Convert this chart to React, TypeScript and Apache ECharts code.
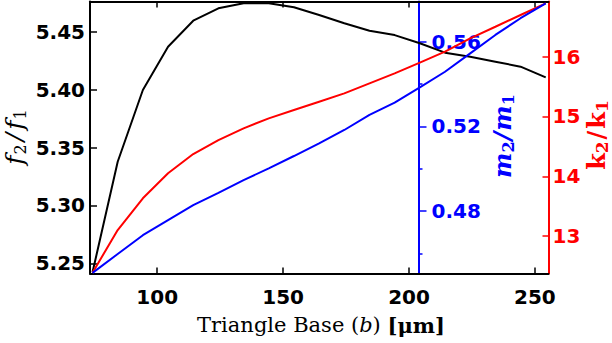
import React, { useEffect, useRef } from "react";
import * as echarts from "echarts";

// Triangle base b [µm]
const xValues = [74.3, 84.3, 94.3, 104.3, 114.3, 124.3, 134.3, 144.3, 154.3, 164.3, 174.3, 184.3, 194.3, 204.3, 214.3, 224.3, 234.3, 244.3, 254.3];
// f2/f1 (black, left axis)
const freqRatio = [5.2422, 5.3377, 5.3997, 5.437, 5.4595, 5.4702, 5.4745, 5.4745, 5.4711, 5.4644, 5.4573, 5.4509, 5.4471, 5.44, 5.4319, 5.4284, 5.4241, 5.4198, 5.4106];
// m2/m1 (blue, inner right axis)
const massRatio = [0.4508, 0.4597, 0.4686, 0.4757, 0.4828, 0.4886, 0.4946, 0.5002, 0.506, 0.512, 0.5183, 0.5254, 0.5312, 0.5384, 0.5458, 0.5545, 0.5632, 0.5711, 0.5781];
// k2/k1 (red, outer right axis)
const stiffRatio = [12.386, 13.1, 13.631, 14.049, 14.372, 14.606, 14.802, 14.969, 15.108, 15.247, 15.387, 15.555, 15.722, 15.9, 16.084, 16.308, 16.502, 16.698, 16.893];

const xTicks = [100, 150, 200, 250];
const fTicks = [5.25, 5.3, 5.35, 5.4, 5.45];
const mTicks = [0.48, 0.52, 0.56];
const mMinorTicks = [0.46, 0.5, 0.54];
const kTicks = [13, 14, 15, 16];

const xRange = [73.3, 255.4];
const fRange = [5.2412, 5.4761];
const mRange = [0.4505, 0.579];
const kRange = [12.373, 16.924];

const BLACK = "#000000";
const BLUE = "#0000ff";
const RED = "#ff0000";
const TICK_FONT = "DejaVu Sans";
const SERIF = "DejaVu Serif";

export default function App() {
  const ref = useRef<HTMLDivElement>(null);

  useEffect(() => {
    if (!ref.current) return;
    const chart = echarts.init(ref.current, undefined, { renderer: "svg" });

    const labelStyle = (color: string) => ({
      color,
      fontSize: 20,
      fontWeight: "bold" as const,
      fontFamily: TICK_FONT,
    });

    const pairs = (arr: number[]) => xValues.map((x, i) => [x, arr[i]]);

    const option: any = {
      animation: false,
      backgroundColor: "#ffffff",
      grid: {
        left: 90,
        right: 63.5,
        top: 1.5,
        bottom: 69.5,
        containLabel: false,
        outerBoundsMode: "none",
      },
      xAxis: [
        {
          type: "value",
          position: "bottom",
          min: xRange[0],
          max: xRange[1],
          axisLine: { show: true, lineStyle: { color: BLACK, width: 2 } },
          axisTick: { show: true, inside: true, length: 6, customValues: xTicks, lineStyle: { color: BLACK, width: 1.5 } },
          axisLabel: { show: true, customValues: xTicks, margin: 13, ...labelStyle(BLACK) },
          splitLine: { show: false },
        },
        {
          type: "value",
          position: "top",
          min: xRange[0],
          max: xRange[1],
          axisLine: { show: true, lineStyle: { color: BLACK, width: 2 } },
          axisTick: { show: true, inside: true, length: 6, customValues: xTicks, lineStyle: { color: BLACK, width: 1.5 } },
          axisLabel: { show: false },
          splitLine: { show: false },
        },
      ],
      yAxis: [
        {
          type: "value",
          position: "left",
          min: fRange[0],
          max: fRange[1],
          axisLine: { show: true, lineStyle: { color: BLACK, width: 2 } },
          axisTick: { show: true, inside: true, length: 7, customValues: fTicks, lineStyle: { color: BLACK, width: 1.5 } },
          axisLabel: {
            show: true,
            customValues: fTicks,
            margin: 5,
            formatter: (v: number) => v.toFixed(2),
            ...labelStyle(BLACK),
          },
          splitLine: { show: false },
        },
        {
          type: "value",
          position: "right",
          offset: 0,
          min: kRange[0],
          max: kRange[1],
          axisLine: { show: true, lineStyle: { color: RED, width: 2 } },
          axisTick: { show: true, inside: true, length: 6, customValues: kTicks, lineStyle: { color: RED, width: 1.5 } },
          axisLabel: {
            show: true,
            customValues: kTicks,
            margin: 4,
            formatter: (v: number) => String(Math.round(v)),
            ...labelStyle(RED),
          },
          splitLine: { show: false },
        },
        {
          type: "value",
          position: "right",
          offset: -130,
          min: mRange[0],
          max: mRange[1],
          axisLine: { show: true, lineStyle: { color: BLUE, width: 2 } },
          axisTick: { show: true, inside: false, length: 8, customValues: mTicks, lineStyle: { color: BLUE, width: 1.5 } },
          axisLabel: {
            show: true,
            customValues: mTicks,
            margin: 13,
            formatter: (v: number) => v.toFixed(2),
            ...labelStyle(BLUE),
          },
          splitLine: { show: false },
        },
        {
          type: "value",
          position: "right",
          offset: -130,
          min: mRange[0],
          max: mRange[1],
          axisLine: { show: false },
          axisTick: { show: true, inside: false, length: 4, customValues: mMinorTicks, lineStyle: { color: BLUE, width: 1.5 } },
          axisLabel: { show: false },
          splitLine: { show: false },
        },
      ],
      series: [
        {
          name: "f2/f1",
          type: "line",
          xAxisIndex: 0,
          yAxisIndex: 0,
          data: pairs(freqRatio),
          showSymbol: false,
          lineStyle: { color: BLACK, width: 2 },
          itemStyle: { color: BLACK },
          z: 3,
        },
        {
          name: "k2/k1",
          type: "line",
          xAxisIndex: 0,
          yAxisIndex: 1,
          data: pairs(stiffRatio),
          showSymbol: false,
          lineStyle: { color: RED, width: 2 },
          itemStyle: { color: RED },
          z: 3,
        },
        {
          name: "m2/m1",
          type: "line",
          xAxisIndex: 0,
          yAxisIndex: 2,
          data: pairs(massRatio),
          showSymbol: false,
          lineStyle: { color: BLUE, width: 2 },
          itemStyle: { color: BLUE },
          z: 3,
        },
      ],
      graphic: [
        {
          type: "text",
          x: 321,
          y: 325,
          style: {
            text: "{n|Triangle Base (}{i|b}{n|) }{b|[μm]}",
            align: "center",
            verticalAlign: "middle",
            fill: BLACK,
            rich: {
              n: { fontFamily: SERIF, fontSize: 21, fill: BLACK },
              i: { fontFamily: SERIF, fontSize: 21, fontStyle: "italic", fill: BLACK },
              b: { fontFamily: SERIF, fontSize: 21, fontWeight: "bold", fill: BLACK },
            },
          },
        },
        {
          type: "text",
          x: 14,
          y: 137,
          rotation: Math.PI / 2,
          style: {
            text: "{f|f}{s|2}{sl|/}{f|f}{s|1}",
            align: "center",
            verticalAlign: "middle",
            fill: BLACK,
            rich: {
              f: { fontFamily: SERIF, fontSize: 25, fontStyle: "italic", lineHeight: 28, fill: BLACK, padding: [0, 1, 0, 0] },
              s: { fontFamily: SERIF, fontSize: 16, lineHeight: 10, verticalAlign: "bottom", fill: BLACK },
              sl: { fontFamily: SERIF, fontSize: 25, fontStyle: "italic", lineHeight: 28, fill: BLACK, padding: [0, 3, 0, 3] },
            },
          },
        },
        {
          type: "text",
          x: 502,
          y: 136,
          rotation: Math.PI / 2,
          style: {
            text: "{m|m}{s|2}{sl|/}{m|m}{s|1}",
            align: "center",
            verticalAlign: "middle",
            fill: BLUE,
            rich: {
              m: { fontFamily: SERIF, fontSize: 24, fontStyle: "italic", fontWeight: "bold", lineHeight: 28, fill: BLUE },
              s: { fontFamily: SERIF, fontSize: 16, fontWeight: "bold", lineHeight: 10, verticalAlign: "bottom", fill: BLUE },
              sl: { fontFamily: SERIF, fontSize: 24, fontStyle: "italic", fontWeight: "bold", lineHeight: 28, fill: BLUE, padding: [0, 1, 0, 1] },
            },
          },
        },
        {
          type: "text",
          x: 596,
          y: 135,
          rotation: Math.PI / 2,
          style: {
            text: "{k|k}{s|2}{sl|/}{k|k}{s|1}",
            align: "center",
            verticalAlign: "middle",
            fill: RED,
            rich: {
              k: { fontFamily: SERIF, fontSize: 24, fontWeight: "bold", lineHeight: 28, fill: RED },
              s: { fontFamily: SERIF, fontSize: 17, fontWeight: "bold", lineHeight: 10, verticalAlign: "bottom", fill: RED },
              sl: { fontFamily: SERIF, fontSize: 24, fontWeight: "bold", lineHeight: 28, fill: RED, padding: [0, 2, 0, 2] },
            },
          },
        },
      ],
    };

    chart.setOption(option);
    return () => {
      chart.dispose();
    };
  }, []);

  return (
    <div
      ref={ref}
      style={{ position: "fixed", left: 0, top: 0, width: 612, height: 343, background: "#ffffff" }}
    />
  );
}
